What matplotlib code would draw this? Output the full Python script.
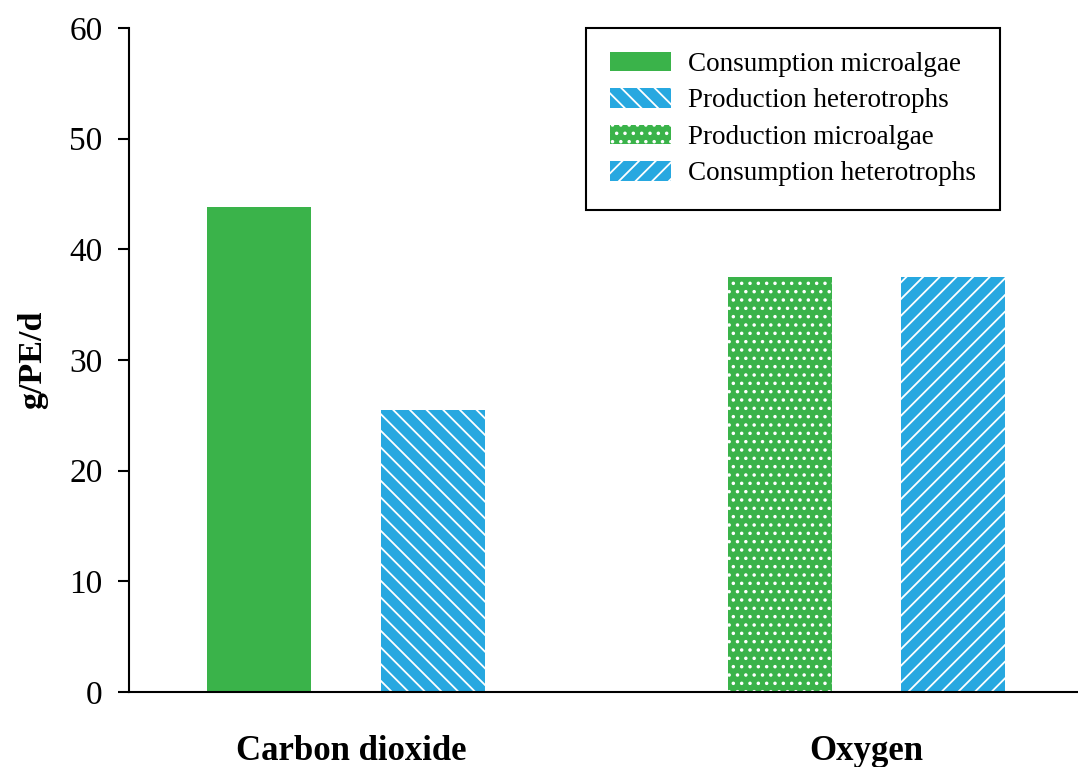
import matplotlib
matplotlib.use("Agg")
import matplotlib.pyplot as plt

plt.rcParams['font.family'] = ['Liberation Serif', 'DejaVu Serif']
plt.rcParams['hatch.linewidth'] = 1.3

# data
groups = ["Carbon dioxide", "Oxygen"]
series = ["Consumption microalgae", "Production heterotrophs",
          "Production microalgae", "Consumption heterotrophs"]
values = [43.8, 25.5, 37.5, 37.5]
xpos = [0, 1, 3, 4]
colors = ["#3AB34A", "#27A8E0", "#3AB34A", "#27A8E0"]
hatches = [None, "\\\\", "..", "//"]

fig = plt.figure(figsize=(10.78, 7.67), dpi=100)
ax = fig.add_axes([0.1197, 0.0978, 0.8803, 0.8657])

for i in range(len(values)):
    ax.bar(xpos[i], values[i], width=0.6, color=colors[i], edgecolor="white",
           linewidth=0, hatch=hatches[i], label=series[i])

ax.set_xlim(-0.75, 4.72)
ax.set_ylim(0, 60)
ax.set_yticks(range(0, 61, 10))
ax.tick_params(axis='y', labelsize=24, direction='out', length=8, width=1.5, pad=11)
ax.set_xticks([0.53, 3.5])
ax.set_xticklabels(groups, fontsize=25, fontweight='bold')
ax.tick_params(axis='x', length=0, pad=31)
ax.spines['top'].set_visible(False)
ax.spines['right'].set_visible(False)
ax.spines['left'].set_linewidth(1.5)
ax.spines['bottom'].set_linewidth(1.5)
ax.set_ylabel("g/PE/d", fontsize=24.5, fontweight='bold', labelpad=15)

leg = ax.legend(loc='upper right', bbox_to_anchor=(0.918, 1.0), fontsize=19.5,
                fancybox=False, edgecolor='black', framealpha=1,
                handlelength=2.25, handleheight=0.72, labelspacing=0.42,
                borderpad=0.88, handletextpad=0.65, borderaxespad=0)
leg.get_frame().set_linewidth(1.5)

fig.savefig("out.png", dpi=100)
